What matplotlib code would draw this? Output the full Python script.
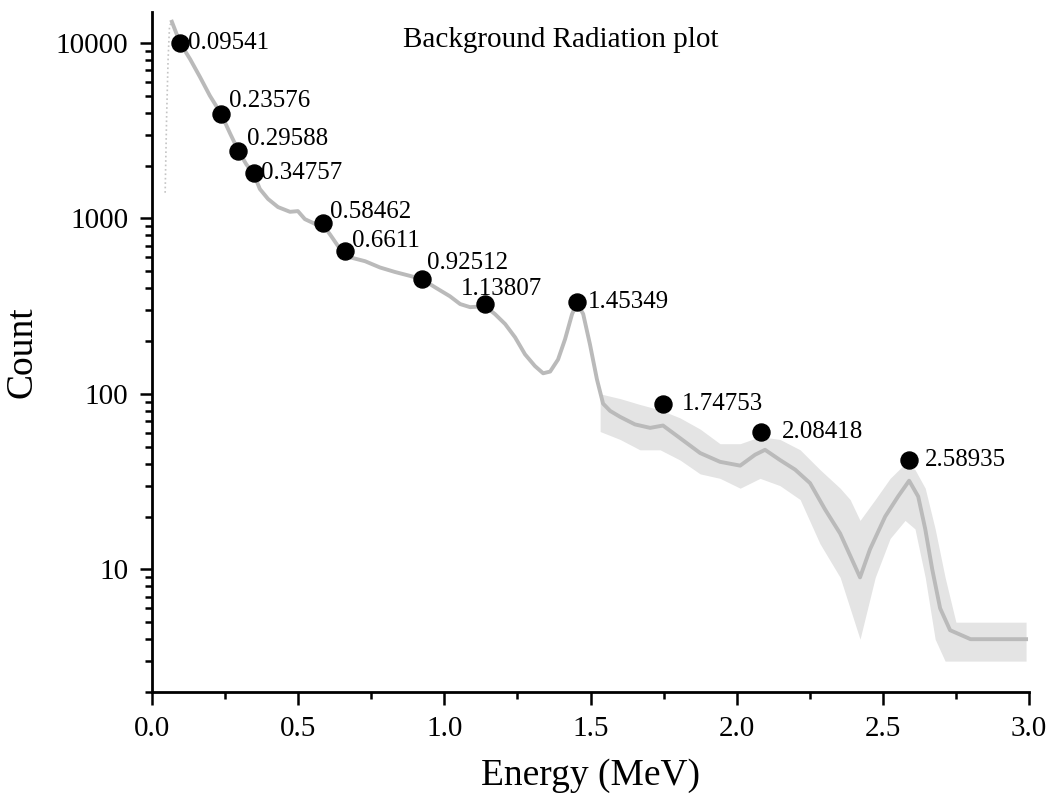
import numpy as np
import matplotlib
matplotlib.use("Agg")
import matplotlib.pyplot as plt
from matplotlib.ticker import FixedLocator, LogLocator, NullFormatter, MultipleLocator

plt.rcParams['font.family'] = ['Liberation Serif', 'DejaVu Serif']

# rising edge at the very start (only a few faint points)
rise_e = [0.045, 0.050, 0.055, 0.060, 0.068]
rise_c = [1400, 3800, 8000, 12500, 13200]

# spectrum (centre of the grey band)
energy = [0.068, 0.096, 0.130, 0.164, 0.198, 0.236,
          0.267, 0.296, 0.322, 0.349, 0.369, 0.397, 0.431, 0.472, 0.499, 0.523,
          0.558, 0.582, 0.609, 0.643, 0.677, 0.729, 0.780, 0.831, 0.883, 0.924,
          0.968, 1.019, 1.054, 1.088, 1.139, 1.173, 1.208, 1.242, 1.276, 1.310,
          1.338, 1.362, 1.389, 1.413, 1.437, 1.454, 1.475, 1.498, 1.522, 1.543,
          1.567, 1.601, 1.652, 1.704, 1.748, 1.806, 1.875, 1.943, 2.012, 2.063,
          2.097, 2.148, 2.200, 2.251, 2.302, 2.354, 2.388, 2.422, 2.456, 2.508,
          2.552, 2.590, 2.621, 2.645, 2.669, 2.696, 2.730, 2.800, 2.900, 2.990]
counts = [13200, 10000, 8100, 6400, 5000, 3950,
          3050, 2420, 2040, 1770, 1470, 1290, 1160, 1090, 1100, 990,
          930, 930, 810, 670, 600, 570, 525, 495, 470, 450,
          405, 360, 325, 312, 316, 285, 250, 210, 168, 144,
          131, 134, 157, 205, 285, 330, 285, 192, 121, 88,
          80, 74, 67, 64, 66, 56, 46, 41, 39, 45,
          48, 42, 37, 31, 22, 16, 12, 9, 13, 20,
          26, 32, 26, 17, 10, 6, 4.5, 4, 4, 4]

# spread of the noisy part of the spectrum
band_e = [1.533, 1.601, 1.669, 1.738, 1.806, 1.875, 1.943, 2.012, 2.080, 2.148,
          2.217, 2.285, 2.354, 2.388, 2.422, 2.474, 2.525, 2.576, 2.610, 2.645,
          2.679, 2.713, 2.750, 2.990]
band_lo = [61, 55, 48, 48, 42, 35, 33, 29, 33, 30,
           25, 14, 9, 6, 4, 9, 15, 19, 17, 9,
           4, 3, 3, 3]
band_hi = [100, 94, 87, 81, 73, 63, 52, 52, 57, 55,
           48, 37, 29, 25, 19, 25, 33, 40, 37, 29,
           17, 9, 5, 5]

# labelled peaks
peak_e = [0.09541, 0.23576, 0.29588, 0.34757, 0.58462, 0.6611, 0.92512,
          1.13807, 1.45349, 1.74753, 2.08418, 2.58935]
peak_c = [10000, 3940, 2420, 1810, 936, 648, 449, 327, 336, 88, 61, 42]
# label offsets in pixels (dx, dy)
label_off = [(8, 0), (8, 13), (9, 12), (7, 0), (7, 11), (7, 10), (5, 16),
             (-24, 15), (11, 0), (19, 0), (21, 0), (16, 0)]

fig = plt.figure(figsize=(10.54, 8), dpi=100)
ax = fig.add_axes([152 / 1054, 108 / 800, 877 / 1054, 680 / 800])

ax.fill_between(band_e, band_lo, band_hi, color='#e4e4e4', lw=0, zorder=1)
ax.plot(rise_e, rise_c, color='#c4c4c4', lw=1.2, ls=':', zorder=2)
ax.plot(energy, counts, color='#bababa', lw=2.8, zorder=2)
ax.scatter(peak_e, peak_c, s=150, color='black', zorder=3)
for e, c, (dx, dy) in zip(peak_e, peak_c, label_off):
    ax.annotate(str(e), (e, c), xytext=(dx, dy), textcoords='offset pixels',
                ha='left', va='center', fontsize=18, zorder=4)

ax.set_yscale('log')
ax.set_xlim(0, 3.0)
ax.set_ylim(2, 15000)

ax.xaxis.set_major_locator(MultipleLocator(0.5))
ax.xaxis.set_minor_locator(MultipleLocator(0.25))
ax.set_xticklabels([f'{v:.1f}' for v in ax.get_xticks()])
ax.yaxis.set_major_locator(FixedLocator([10, 100, 1000, 10000]))
ax.set_yticklabels(['10', '100', '1000', '10000'])
ax.yaxis.set_minor_locator(LogLocator(base=10, subs=np.arange(2, 10)))
ax.yaxis.set_minor_formatter(NullFormatter())

for s in ['top', 'right']:
    ax.spines[s].set_visible(False)
for s in ['left', 'bottom']:
    ax.spines[s].set_linewidth(2)

ax.tick_params(which='major', direction='out', length=9, width=1.8, labelsize=21, pad=8)
ax.tick_params(which='minor', direction='out', length=5, width=1.8)

ax.set_xlabel('Energy (MeV)', fontsize=27, labelpad=12)
ax.set_ylabel('Count', fontsize=27, labelpad=12)
ax.text(0.286, 0.959, 'Background Radiation plot', transform=ax.transAxes,
        ha='left', va='center', fontsize=21)

fig.savefig('out.png', dpi=100)
